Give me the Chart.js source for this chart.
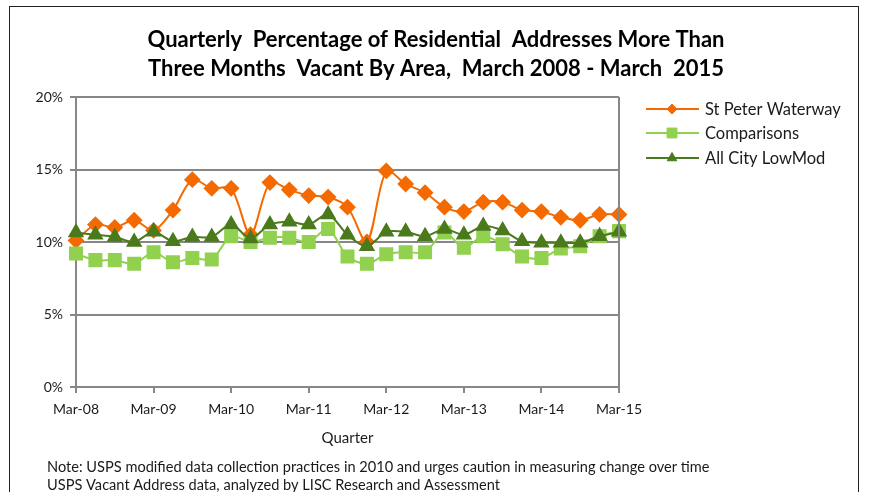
<!DOCTYPE html>
<html>
<head>
<meta charset="utf-8">
<script src="https://cdn.jsdelivr.net/npm/chart.js@4.4.1/dist/chart.umd.min.js"></script>
<style>
  body { margin: 0; background: #fff; }
  canvas { display: block; }
</style>
</head>
<body>
<canvas id="chart" width="869" height="492"></canvas>
<script>
// quarters, Mar-08 .. Mar-15
const quarters = [
    'Mar-08', 'Jun-08', 'Sep-08', 'Dec-08',
    'Mar-09', 'Jun-09', 'Sep-09', 'Dec-09',
    'Mar-10', 'Jun-10', 'Sep-10', 'Dec-10',
    'Mar-11', 'Jun-11', 'Sep-11', 'Dec-11',
    'Mar-12', 'Jun-12', 'Sep-12', 'Dec-12',
    'Mar-13', 'Jun-13', 'Sep-13', 'Dec-13',
    'Mar-14', 'Jun-14', 'Sep-14', 'Dec-14',
    'Mar-15'
];

const stPeter = [10.1, 11.2, 11.0, 11.5, 10.8, 12.2, 14.3, 13.7, 13.7, 10.5,
    14.1, 13.6, 13.2, 13.1, 12.4, 10.0, 14.9, 14.0, 13.4, 12.4,
    12.1, 12.75, 12.75, 12.2, 12.1, 11.7, 11.5, 11.9, 11.9];

const comparisons = [9.2, 8.75, 8.75, 8.5, 9.3, 8.6, 8.9, 8.8, 10.4, 10.0,
    10.3, 10.3, 10.0, 10.9, 9.0, 8.5, 9.15, 9.3, 9.3, 10.65,
    9.6, 10.4, 9.85, 9.0, 8.9, 9.55, 9.7, 10.4, 10.75];

const allCity = [10.65, 10.5, 10.35, 10.0, 10.7, 10.05, 10.35, 10.35, 11.2, 10.25,
    11.2, 11.4, 11.2, 11.9, 10.5, 9.7, 10.7, 10.7, 10.4, 10.9,
    10.5, 11.1, 10.8, 10.05, 9.95, 9.95, 9.95, 10.4, 10.7];

const seriesNames = ['St Peter Waterway', 'Comparisons', 'All City LowMod'];
const yTicks = [0, 5, 10, 15, 20];

const titleLines = [
    'Quarterly  Percentage of Residential  Addresses More Than',
    'Three Months  Vacant By Area,  March 2008 - March  2015'
];
const noteLines = [
    'Note: USPS modified data collection practices in 2010 and urges caution in measuring change over time',
    'USPS Vacant Address data, analyzed by LISC Research and Assessment'
];

const FONT = 'Lato, "Open Sans", sans-serif';
const GRID = '#878787';

// outer frame, title, right plot border, legend and footnote
const decorations = {
    id: 'decorations',
    beforeDraw(chart) {
        const ctx = chart.ctx;
        ctx.save();
        ctx.strokeStyle = '#222';
        ctx.lineWidth = 1;
        ctx.strokeRect(9.5, 6.5, 849, 600);

        ctx.fillStyle = '#000';
        ctx.font = 'bold 22px ' + FONT;
        ctx.textAlign = 'center';
        ctx.textBaseline = 'middle';
        ctx.fillText(titleLines[0], 436, 40);
        ctx.fillText(titleLines[1], 436, 69);
        ctx.restore();
    },
    afterDatasetsDraw(chart) {
        const ctx = chart.ctx;
        const area = chart.chartArea;
        ctx.save();
        ctx.strokeStyle = GRID;
        ctx.lineWidth = 2;
        ctx.beginPath();
        ctx.moveTo(area.right, area.top);
        ctx.lineTo(area.right, area.bottom);
        ctx.stroke();
        ctx.restore();
    },
    afterDraw(chart) {
        const ctx = chart.ctx;
        ctx.save();

        // legend
        const rows = [109, 133, 158];
        chart.data.datasets.forEach((ds, i) => {
            const y = rows[i];
            ctx.strokeStyle = ds.borderColor;
            ctx.lineWidth = 2;
            ctx.beginPath();
            ctx.moveTo(646, y);
            ctx.lineTo(699, y);
            ctx.stroke();
            ctx.fillStyle = ds.pointBackgroundColor;
            ctx.strokeStyle = ds.pointBorderColor;
            ctx.lineWidth = 1;
            Chart.helpers.drawPoint(ctx, {
                pointStyle: ds.pointStyle,
                radius: ds.legendRadius,
                rotation: 0,
                borderWidth: 1
            }, 672, y);
            ctx.fillStyle = '#1a1a1a';
            ctx.font = '16.5px ' + FONT;
            ctx.textBaseline = 'middle';
            ctx.textAlign = 'left';
            ctx.fillText(ds.label, 705, y + 1);
        });

        // footnote
        ctx.fillStyle = '#1a1a1a';
        ctx.font = '14.6px ' + FONT;
        ctx.textBaseline = 'middle';
        ctx.fillText(noteLines[0], 47, 467);
        ctx.fillText(noteLines[1], 47, 485);
        ctx.restore();
    }
};

const ctx = document.getElementById('chart').getContext('2d');

new Chart(ctx, {
    type: 'line',
    data: {
        labels: quarters,
        datasets: [
            {
                label: seriesNames[0],
                data: stPeter,
                borderColor: '#F46A00',
                backgroundColor: '#F46A00',
                pointBackgroundColor: '#F46A00',
                pointBorderColor: '#F46A00',
                pointStyle: 'rectRot',
                pointRadius: 7,
                legendRadius: 5,
                borderWidth: 2,
                tension: 0.3,
                order: 3
            },
            {
                label: seriesNames[1],
                data: comparisons,
                borderColor: '#92D050',
                backgroundColor: '#92D050',
                pointBackgroundColor: '#92D050',
                pointBorderColor: '#92D050',
                pointStyle: 'rect',
                pointRadius: 8.5,
                legendRadius: 7,
                borderWidth: 2,
                tension: 0.3,
                order: 2
            },
            {
                label: seriesNames[2],
                data: allCity,
                borderColor: '#4A7A1C',
                backgroundColor: '#4A7A1C',
                pointBackgroundColor: '#4A7A1C',
                pointBorderColor: '#4A7A1C',
                pointStyle: 'triangle',
                pointRadius: 7.5,
                legendRadius: 5.5,
                borderWidth: 2,
                tension: 0.3,
                order: 1
            }
        ]
    },
    options: {
        responsive: false,
        animation: false,
        devicePixelRatio: 1,
        layout: {
            padding: { left: 0, right: 250, top: 97, bottom: 45 }
        },
        plugins: {
            legend: { display: false },
            tooltip: { enabled: false },
            title: { display: false }
        },
        scales: {
            x: {
                type: 'category',
                offset: false,
                grid: {
                    display: true,
                    drawOnChartArea: false,
                    drawTicks: true,
                    tickLength: 6,
                    tickColor: GRID,
                    lineWidth: 2
                },
                border: { display: true, color: GRID, width: 2 },
                ticks: {
                    autoSkip: false,
                    maxRotation: 0,
                    padding: 8,
                    color: '#1a1a1a',
                    font: { family: FONT, size: 14 },
                    callback: function (val, idx) {
                        return idx % 4 === 0 ? quarters[idx] : null;
                    }
                },
                title: {
                    display: true,
                    text: 'Quarter',
                    color: '#1a1a1a',
                    font: { family: FONT, size: 15 },
                    padding: { top: 0, bottom: 0 }
                },
                afterFit: function (scale) {
                    scale.height = 60;
                }
            },
            y: {
                min: 0,
                max: 20,
                afterBuildTicks: function (scale) {
                    scale.ticks = yTicks.map(v => ({ value: v }));
                },
                grid: {
                    color: GRID,
                    lineWidth: 2,
                    drawTicks: true,
                    tickLength: 6
                },
                border: { display: true, color: GRID, width: 2 },
                ticks: {
                    padding: 7,
                    color: '#1a1a1a',
                    font: { family: FONT, size: 14 },
                    callback: v => v + '%'
                },
                afterFit: function (scale) {
                    scale.width = 76;
                }
            }
        }
    },
    plugins: [decorations]
});
</script>
</body>
</html>
